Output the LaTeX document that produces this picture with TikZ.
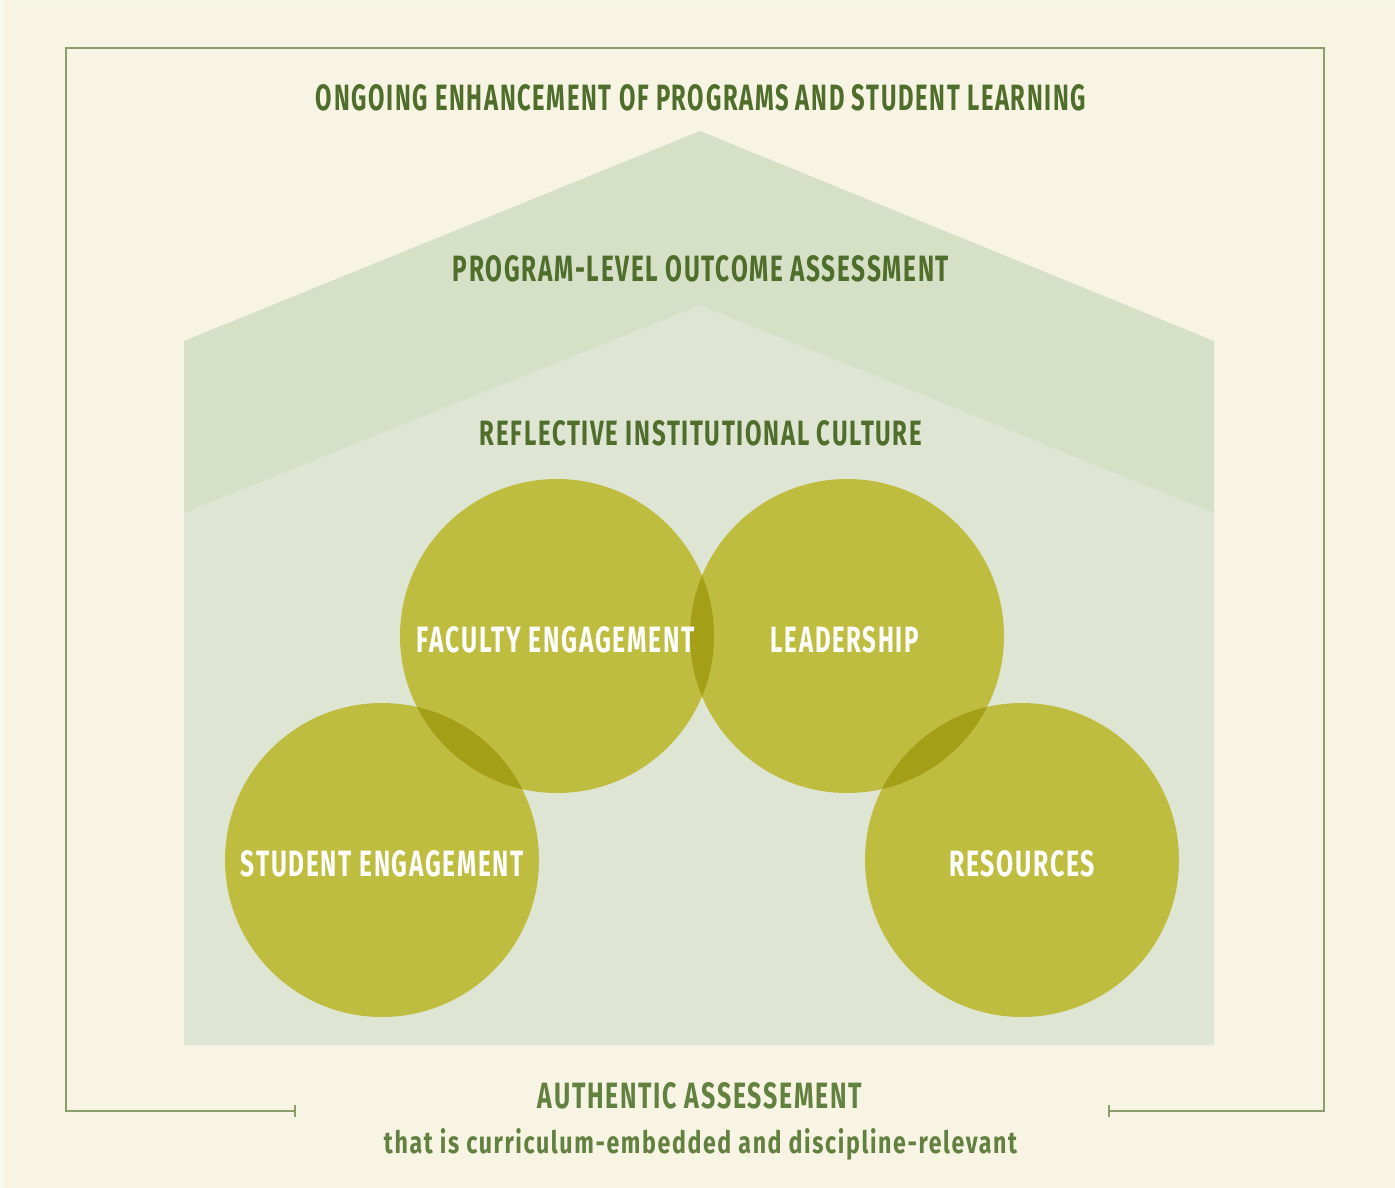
\documentclass[tikz,border=0pt]{standalone}
\usepackage{fontspec}
\usepackage{graphicx}
\setmainfont{Fira Sans}[LetterSpace=7]
\definecolor{pagebg}{HTML}{F7F4E3}
\definecolor{edgebg}{HTML}{F8FAF0}
\definecolor{frameline}{HTML}{8A9E6C}
\definecolor{roofout}{HTML}{D5E0C6}
\definecolor{roofin}{HTML}{DFE5D3}
\definecolor{disc}{HTML}{BFBD3F}
\definecolor{discdark}{HTML}{A59F18}
\definecolor{darktext}{HTML}{4F6E2B}
\definecolor{softtext}{HTML}{62803F}
\newcommand{\fitbox}[3]{\resizebox{#1pt}{#2pt}{\bfseries #3}}
\tikzset{
  frame/.style={draw=frameline, line width=2.8pt},
  disk/.style={circle, fill=disc, minimum size=314pt, inner sep=0pt},
  label/.style={inner sep=0pt, anchor=base},
  heading/.style={label, text=darktext},
  subline/.style={label, text=softtext},
  disclabel/.style={label, text=white}
}
\begin{document}
\begin{tikzpicture}[x=1pt, y=-1pt]
\useasboundingbox (0,0) rectangle (1395,1188);
\fill[edgebg] (0,0) rectangle (1395,1188);
\fill[pagebg] (4,1) rectangle (1395,1188);
% frame
\coordinate (bl) at (295,1111);
\coordinate (br) at (1109,1111);
\draw[frame] (bl) -- (66,1111) -- (66,48) -- (1324,48) -- (1324,1111) -- (br);
\draw[frame] (295,1105) -- (295,1117);
\draw[frame] (1109,1105) -- (1109,1117);
% roof bands
\fill[roofout] (184,1045) -- (184,341) -- (700,131) -- (1214,341) -- (1214,1045) -- cycle;
\fill[roofin] (184,1045) -- (184,513) -- (700,305) -- (1214,513) -- (1214,1045) -- cycle;
% circles
\node[disk] (fac) at (557,636) {};
\node[disk] (lead) at (847,636) {};
\node[disk] (stu) at (382,860) {};
\node[disk] (res) at (1022,860) {};
\begin{scope}
  \clip (557,636) circle[radius=157pt];
  \fill[discdark] (382,860) circle[radius=157pt];
  \fill[discdark] (847,636) circle[radius=157pt];
\end{scope}
\begin{scope}
  \clip (847,636) circle[radius=157pt];
  \fill[discdark] (1022,860) circle[radius=157pt];
\end{scope}
% texts
\node[heading] (t1) at (701,111) {\fitbox{770}{26}{ONGOING ENHANCEMENT OF PROGRAMS AND STUDENT LEARNING}};
\node[heading] (t2) at (701,281) {\fitbox{496}{26}{PROGRAM-LEVEL OUTCOME ASSESSMENT}};
\node[heading] (t3) at (701,445) {\fitbox{442}{25}{REFLECTIVE INSTITUTIONAL CULTURE}};
\node[disclabel] (l1) at (556,652) {\fitbox{278}{26}{FACULTY ENGAGEMENT}};
\node[disclabel] (l2) at (845,652) {\fitbox{148}{26}{LEADERSHIP}};
\node[disclabel] (l3) at (382.5,876) {\fitbox{283}{26}{STUDENT ENGAGEMENT}};
\node[disclabel] (l4) at (1022,876) {\fitbox{146}{26}{RESOURCES}};
\node[subline] (t4) at (700,1108) {\fitbox{324}{26}{AUTHENTIC ASSESSEMENT}};
\node[subline] (t5) at (700.5,1153) {\fitbox{633}{25}{that is curriculum-embedded and discipline-relevant}};
\end{tikzpicture}
\end{document}
